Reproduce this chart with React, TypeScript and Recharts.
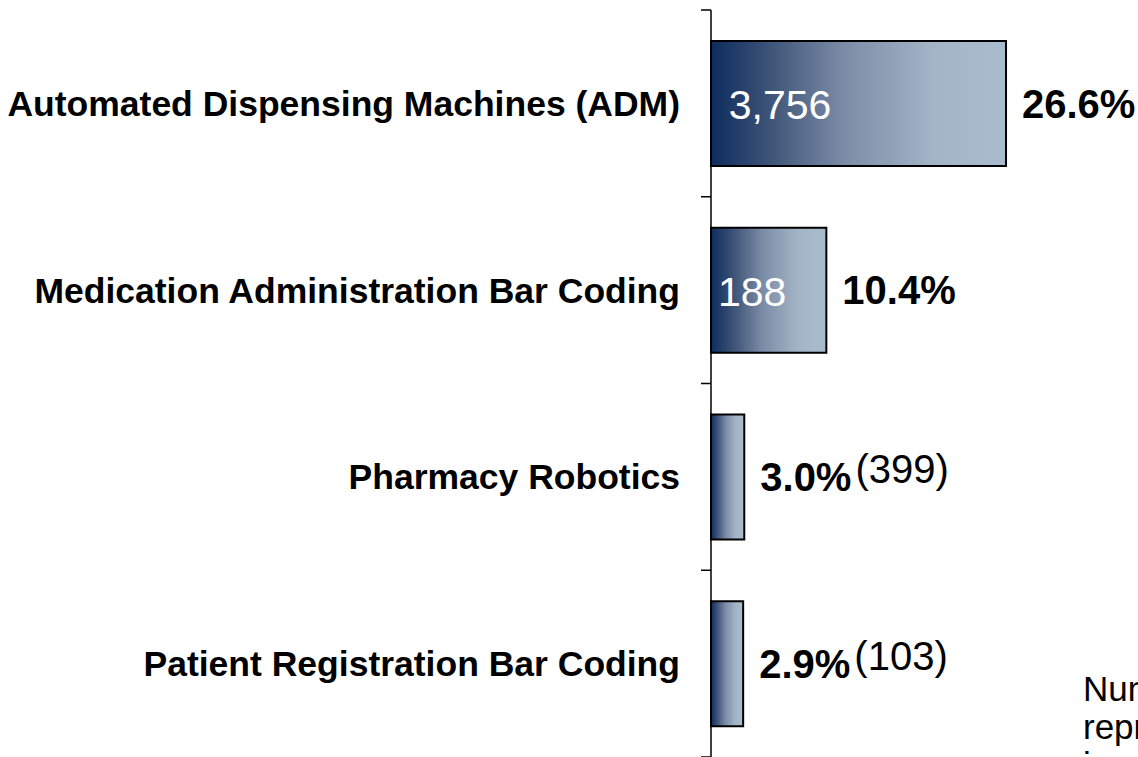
import { BarChart, Bar, XAxis, YAxis, LabelList } from 'recharts';

const categories = [
  'Automated Dispensing Machines (ADM)',
  'Medication Administration Bar Coding',
  'Pharmacy Robotics',
  'Patient Registration Bar Coding',
];
const percentages = [26.6, 10.4, 3.0, 2.9];
const counts = ['3,756', '188', '(399)', '(103)'];
const noteLines = ['Numbers in parentheses', 'represent installations', 'in progress'];

const data = categories.map((name, i) => ({
  name,
  pct: percentages[i],
  count: counts[i],
}));

const FONT = '"Liberation Sans", Arial, sans-serif';
const TICK_SIZE = 10;
const TICK_MARGIN = 21;

function CategoryTick(props: any) {
  const { x, y, payload, index } = props;
  const half = payload && payload.offset ? payload.offset : 93.4;
  const x1 = x + TICK_MARGIN;
  const x2 = x1 + TICK_SIZE;
  return (
    <g>
      {index === 0 && <line x1={x1} x2={x2} y1={y - half} y2={y - half} stroke="#000" strokeWidth={1.5} />}
      <line x1={x1} x2={x2} y1={y + half} y2={y + half} stroke="#000" strokeWidth={1.5} />
      <text
        x={x}
        y={y}
        dy="0.35em"
        textAnchor="end"
        fontFamily={FONT}
        fontWeight="bold"
        fontSize={35.5}
        fill="#000"
      >
        {payload.value}
      </text>
    </g>
  );
}

function ValueLabel(props: any) {
  const { x, y, width, height, index } = props;
  const cy = y + height / 2;
  const pct = percentages[index].toFixed(1) + '%';
  const count = counts[index];
  const inside = width > 100;
  const pctX = x + width + 16;
  return (
    <g fontFamily={FONT}>
      {inside && (
        <text x={x + width * 0.06} y={cy} dy="0.38em" fontSize={41} fill="#fff">
          {count}
        </text>
      )}
      <text x={pctX} y={cy} dy="0.35em" fontSize={40} fontWeight="bold" fill="#000">
        {pct}
        {!inside && (
          <tspan fontWeight="normal" dx={4} dy={-8}>
            {count}
          </tspan>
        )}
      </text>
    </g>
  );
}

export default function App() {
  return (
    <div
      style={{
        position: 'absolute',
        left: 0,
        top: 0,
        width: 1138,
        height: 757,
        overflow: 'hidden',
        background: '#fff',
      }}
    >
      <BarChart
        width={1138}
        height={757}
        data={data}
        layout="vertical"
        margin={{ top: 10, right: 0, bottom: 0, left: 0 }}
      >
        <defs>
          <linearGradient id="barGrad" x1="0" y1="0" x2="1" y2="0">
            <stop offset="0%" stopColor="#0d2c5e" />
            <stop offset="20%" stopColor="#3e5478" />
            <stop offset="45%" stopColor="#7b8ca6" />
            <stop offset="75%" stopColor="#a3b4c6" />
            <stop offset="100%" stopColor="#a9bccd" />
          </linearGradient>
        </defs>
        <XAxis type="number" domain={[0, 38.5]} hide />
        <YAxis
          type="category"
          dataKey="name"
          width={711}
          tickSize={TICK_SIZE}
          tickMargin={TICK_MARGIN}
          tickLine={false}
          axisLine={{ stroke: '#000', strokeWidth: 1.5 }}
          tick={<CategoryTick />}
          interval={0}
        />
        <Bar
          dataKey="pct"
          barSize={125}
          fill="url(#barGrad)"
          stroke="#000"
          strokeWidth={2}
          isAnimationActive={false}
        >
          <LabelList dataKey="pct" content={<ValueLabel />} />
        </Bar>
      </BarChart>
      <div
        style={{
          position: 'absolute',
          left: 1083,
          top: 670,
          fontFamily: FONT,
          fontSize: 35,
          lineHeight: '38px',
          whiteSpace: 'nowrap',
          color: '#000',
        }}
      >
        {noteLines.map((l) => (
          <div key={l}>{l}</div>
        ))}
      </div>
    </div>
  );
}
